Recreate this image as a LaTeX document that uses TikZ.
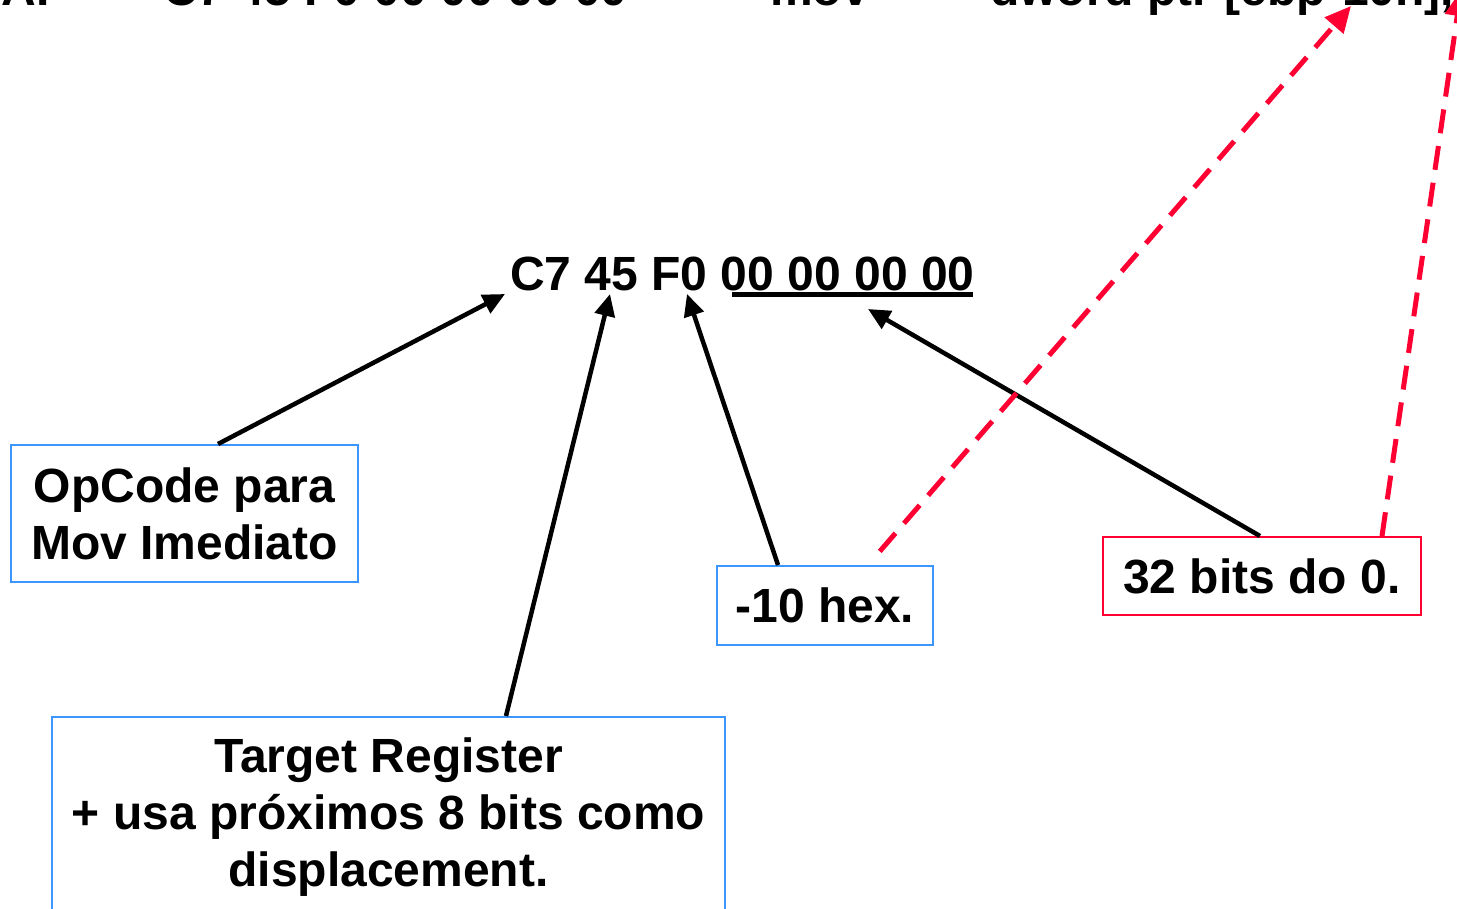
\documentclass[tikz,border=0pt]{standalone}
\usepackage{fontspec}
\setmainfont{Liberation Sans}
\usetikzlibrary{arrows.meta,calc}
\definecolor{boxblue}{RGB}{60,150,255}
\definecolor{boxred}{RGB}{255,0,51}
\begin{document}
\begin{tikzpicture}[x=1pt,y=-1pt,
  txt/.style={font=\fontsize{48}{57}\selectfont\bfseries, inner sep=0pt},
  bluebox/.style={txt, draw=boxblue, line width=2pt, align=center},
  redbox/.style={txt, draw=boxred, line width=2pt, align=center},
  blackarrow/.style={line width=4.5pt, -{Triangle[length=22pt,width=20pt]}},
  redarrow/.style={draw=boxred, line width=5pt, dash pattern=on 24pt off 13pt, -{Triangle[length=26pt,width=24pt]}}
]
\useasboundingbox (0,0) rectangle (1457,908);

% top (cut-off) line
\node[txt, anchor=base east] (addr) at (66,5) {004113AF};
\node[txt, anchor=base west] (topcode) at (163,5) {C7 45 F0 00 00 00 00};
\node[txt, anchor=base west] (mov) at (770,5) {mov};
\node[txt, anchor=base west] (operand) at (990,5) {dword ptr [ebp-10h],0};

% main code
\node[txt, anchor=base west] (code) at (510,290) {C7 45 F0 00 00 00 00};
\draw[line width=5pt] (732,294) -- (973,294);

\coordinate (tC7) at (505,294);
\coordinate (t45) at (610,294);
\coordinate (tF0) at (687,294);
\coordinate (tZero) at (868,309);
\coordinate (tOperand) at (1351,6);
\coordinate (tZeroTop) at (1461,-10);

% boxes
\node[bluebox, minimum width=347pt, minimum height=137pt] (op) at (184.5,513.5) {OpCode para\\Mov Imediato};
\node[bluebox, minimum width=216pt, minimum height=79pt] (hex) at (825,605.5) {-10 hex.};
\node[redbox, minimum width=318pt, minimum height=78pt] (bits) at (1262,576) {32 bits do 0.};
\node[bluebox, minimum width=673pt, minimum height=200pt] (reg) at (388.5,817) {Target Register\\+ usa próximos 8 bits como\\displacement.};

% arrows
\draw[blackarrow] (op.north -| 218,0) -- (tC7);
\draw[blackarrow] (reg.north -| 506,0) -- (t45);
\draw[blackarrow] (hex.north -| 778,0) -- (tF0);
\draw[blackarrow] (bits.north -| 1260,0) -- (tZero);

\draw[redarrow, shorten <=18pt] (hex.north -| 868,0) -- (tOperand);
\draw[redarrow] (bits.north -| 1382,0) -- (tZeroTop);
\end{tikzpicture}
\end{document}
